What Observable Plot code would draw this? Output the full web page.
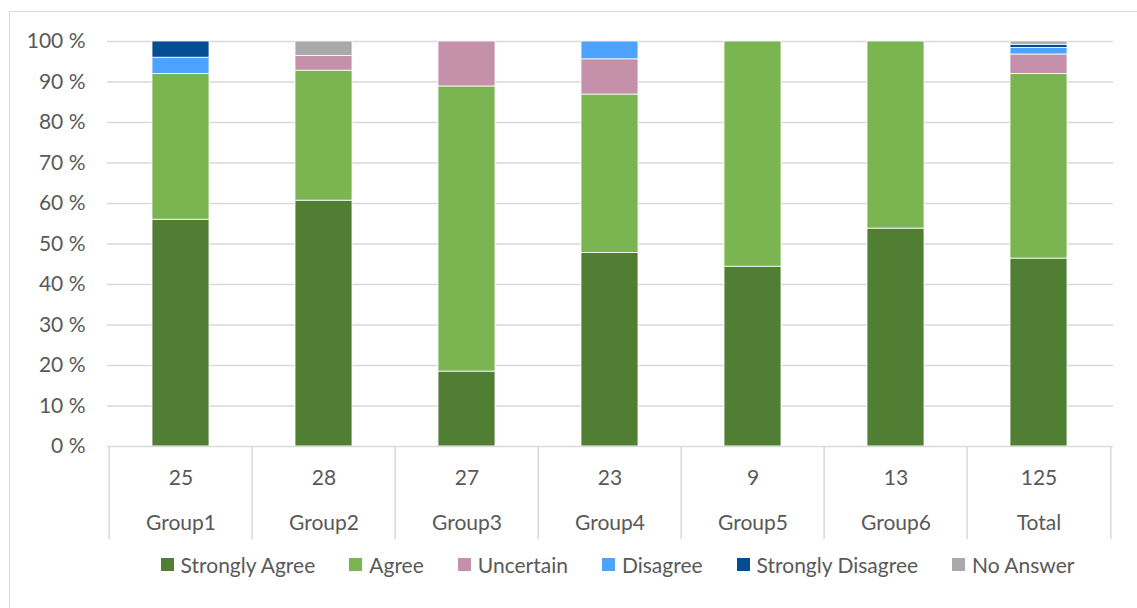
<!DOCTYPE html>
<html>
<head>
<meta charset="utf-8">
<script src="https://cdn.jsdelivr.net/npm/d3@7"></script>
<script src="https://cdn.jsdelivr.net/npm/@observablehq/plot@0.6"></script>
<style>
  html, body { margin: 0; padding: 0; background: #fff; overflow: hidden; }
  #wrap { position: relative; width: 1137px; height: 608px; font-family: Lato, "Open Sans", sans-serif; }
  #frame { position: absolute; left: 9px; top: 11px; width: 1140px; height: 620px; border: 1.5px solid #d9d9d9; box-sizing: border-box; }
  #chart { position: absolute; left: 0; top: 0; }
  #legend { position: absolute; left: 0; top: 552px; width: 1137px; display: flex; justify-content: center;
            padding-left: 98px; box-sizing: border-box; font-size: 21px; color: #595959; }
  .item { display: flex; align-items: center; margin-right: 34px; }
  .item:last-child { margin-right: 0; }
  .sw { width: 13px; height: 13px; margin-right: 7px; }
</style>
</head>
<body>
<div id="wrap">
  <div id="frame"></div>
  <div id="chart"></div>
  <div id="legend"></div>
</div>
<script>
// Survey responses per group, in percent of respondents
const groups = ["Group1", "Group2", "Group3", "Group4", "Group5", "Group6", "Total"];
const respondents = [25, 28, 27, 23, 9, 13, 125];

const stronglyAgree    = [56.0, 60.7, 18.5, 47.8, 44.4, 53.8, 46.4];
const agree            = [36.0, 32.1, 70.4, 39.1, 55.6, 46.2, 45.6];
const uncertain        = [0, 3.6, 11.1, 8.7, 0, 0, 4.8];
const disagree         = [4.0, 0, 0, 4.4, 0, 0, 1.6];
const stronglyDisagree = [4.0, 0, 0, 0, 0, 0, 0.8];
const noAnswer         = [0, 3.6, 0, 0, 0, 0, 0.8];

const answers = ["Strongly Agree", "Agree", "Uncertain", "Disagree", "Strongly Disagree", "No Answer"];
const colors  = ["#507e32", "#7ab551", "#c490aa", "#4da3ff", "#044c93", "#a9a9a9"];
const seriesValues = [stronglyAgree, agree, uncertain, disagree, stronglyDisagree, noAnswer];

const rows = [];
answers.forEach((a, s) => groups.forEach((g, i) => rows.push({group: g, answer: a, value: seriesValues[s][i]})));

const W = 1137, H = 548;
const mL = 107, mR = 24, mT = 41, mB = 102;
const step = (W - mL - mR) / groups.length;
const textColor = "#595959";
const gridColor = "#d9d9d9";
const fs = "21px";

const chart = Plot.plot({
  width: W,
  height: H,
  marginLeft: mL,
  marginRight: mR,
  marginTop: mT,
  marginBottom: mB,
  style: {fontFamily: "Lato, 'Open Sans', sans-serif", fontSize: fs, color: textColor, background: "transparent"},
  x: {domain: groups, paddingInner: 0.6, paddingOuter: 0.3, axis: null},
  y: {domain: [0, 100], axis: null},
  color: {domain: answers, range: colors},
  marks: [
    Plot.gridY(d3.range(10, 101, 10), {stroke: gridColor, strokeOpacity: 1, strokeWidth: 1.5}),
    Plot.axisY(d3.range(0, 101, 10), {
      label: null, tickSize: 0, tickPadding: 22, tickFormat: d => `${d} %`,
      fill: textColor, fontSize: fs
    }),
    Plot.barY(rows, Plot.stackY({
      x: "group", y: "value", fill: "answer", order: answers,
      stroke: "white", strokeWidth: 0.8
    })),
    // category table below the axis
    Plot.ruleY([0], {stroke: gridColor, strokeWidth: 1.5}),
    Plot.ruleX(groups, {x: d => d, y1: 0, y2: -23, dx: -step / 2, stroke: gridColor, strokeWidth: 1.5}),
    Plot.ruleX([groups[groups.length - 1]], {x: d => d, y1: 0, y2: -23, dx: step / 2, stroke: gridColor, strokeWidth: 1.5}),
    Plot.text(groups, {x: d => d, y: 0, dy: 32, text: (d, i) => String(respondents[i]), fill: textColor, fontSize: fs}),
    Plot.text(groups, {x: d => d, y: 0, dy: 77, text: d => d, fill: textColor, fontSize: fs})
  ]
});
document.getElementById("chart").appendChild(chart);

// legend
const legend = document.getElementById("legend");
answers.forEach((a, i) => {
  const item = document.createElement("div");
  item.className = "item";
  const sw = document.createElement("div");
  sw.className = "sw";
  sw.style.background = colors[i];
  const label = document.createElement("span");
  label.textContent = a;
  item.appendChild(sw);
  item.appendChild(label);
  legend.appendChild(item);
});
</script>
</body>
</html>
